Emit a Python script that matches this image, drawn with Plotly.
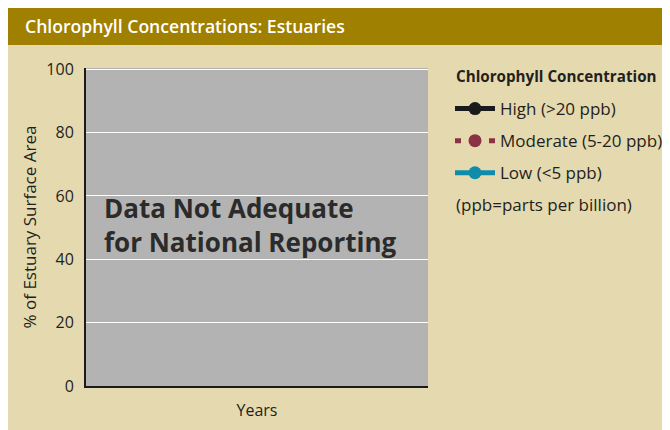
import plotly.graph_objects as go

# ---- data (no values: data not adequate for national reporting) ----
years = [None]
series_names = ["High (>20 ppb)", "Moderate (5-20 ppb)", "Low (<5 ppb)"]
high_values = [None]
moderate_values = [None]
low_values = [None]
series_values = [high_values, moderate_values, low_values]
y_tick_values = [0, 20, 40, 60, 80, 100]
y_tick_labels = ["0", "20", "40", "60", "80", "100"]

# ---- styles ----
OFF = 8                      # page body margin
W, H = 670 - OFF, 430 - OFF  # figure size
PL, PR, PT, PB = 86, 428, 68, 386  # plot area in page pixels
FONT = "Open Sans"
TEXT = "#231f20"
series_colors = ["#1a1a1a", "#8b3243", "#0f8cab"]
series_dash = ["solid", "6px,28px,6px", "solid"]


def px(x):
    return (x - PL) / (PR - PL)


def py(y):
    return (PB - y) / (PB - PT)


def cx(x):
    return (x - OFF) / W


def cy(y):
    return 1 - (y - OFF) / H


fig = go.Figure()
for i, name in enumerate(series_names):
    fig.add_trace(go.Scatter(
        x=years, y=series_values[i], name=name, mode="lines+markers",
        legendgroup=name,
        line=dict(color=series_colors[i], width=5, dash=series_dash[i]),
        marker=dict(color=series_colors[i], size=13),
    ))

shapes = [
    dict(type="rect", xref="paper", yref="paper", x0=px(0), x1=px(680), y0=py(45), y1=py(0),
         fillcolor="#a08000", line=dict(width=0), layer="below"),
]

annotations = [
    dict(text="Chlorophyll Concentrations: Estuaries", xref="paper", yref="paper",
         x=px(23), y=py(26), xanchor="left", yanchor="middle", showarrow=False,
         font=dict(family=FONT, size=17.6, color="white", weight=600)),
    dict(text="Data Not Adequate<br>for National Reporting", xref="paper", yref="paper",
         x=px(102), y=py(225), xanchor="left", yanchor="middle", align="left", showarrow=False,
         font=dict(family=FONT, size=26, color="#2b2b2b", weight="bold")),
    dict(text="Chlorophyll Concentration", xref="paper", yref="paper",
         x=px(454), y=py(76), xanchor="left", yanchor="middle", showarrow=False,
         font=dict(family=FONT, size=15.2, color=TEXT, weight="bold")),
    dict(text="(ppb=parts per billion)", xref="paper", yref="paper",
         x=px(454), y=py(204), xanchor="left", yanchor="middle", showarrow=False,
         font=dict(family=FONT, size=17, color=TEXT)),
]

fig.update_layout(
    width=W, height=H,
    margin=dict(l=PL - OFF, r=W - (PR - OFF), t=PT - OFF, b=H - (PB - OFF), pad=0),
    paper_bgcolor="#e5daaf",
    plot_bgcolor="#b3b3b3",
    font=dict(family=FONT, size=17, color=TEXT),
    shapes=shapes,
    annotations=annotations,
    showlegend=True,
    legend=dict(
        xref="container", yref="container",
        x=cx(450), y=cy(91), xanchor="left", yanchor="top",
        bgcolor="rgba(0,0,0,0)",
        font=dict(family=FONT, size=17, color=TEXT),
        tracegroupgap=7,
        itemsizing="trace",
        itemwidth=40,
    ),
    xaxis=dict(
        range=[0, 1], showticklabels=False, showgrid=False, zeroline=False,
        showline=True, linecolor="#1a1a1a", linewidth=2,
        title=dict(text="Years", font=dict(family=FONT, size=16, color=TEXT), standoff=18),
    ),
    yaxis=dict(
        range=[0, 100.4], tickvals=y_tick_values, ticktext=y_tick_labels,
        showgrid=True, gridcolor="white", gridwidth=1, zeroline=False,
        showline=True, linecolor="#1a1a1a", linewidth=2,
        ticks="outside", ticklen=7, tickcolor="rgba(0,0,0,0)",
        tickfont=dict(family=FONT, size=16, color=TEXT),
        title=dict(text="% of Estuary Surface Area", font=dict(family=FONT, size=17, color=TEXT), standoff=5),
    ),
)

fig.write_html("out.html")
